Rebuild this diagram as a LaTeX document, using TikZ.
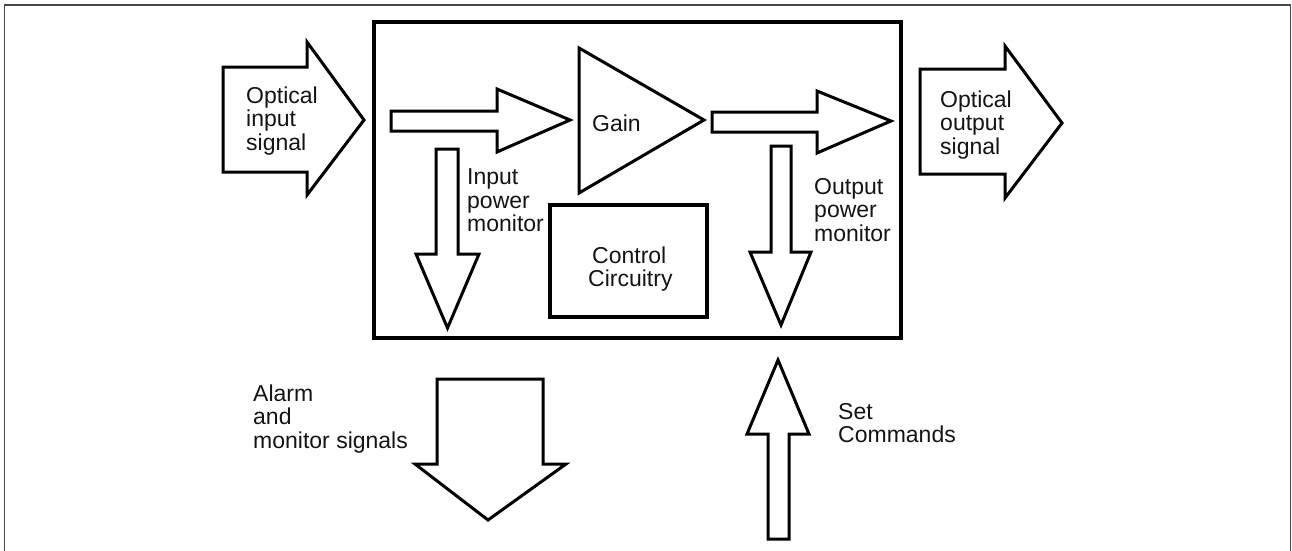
\documentclass[tikz,border=0pt]{standalone}
\usepackage{fontspec}
\setmainfont{Liberation Sans}
\begin{document}
\begin{tikzpicture}[x=1pt,y=-1pt,
  shp/.style={draw=black,line width=3pt,fill=white,line join=miter},
  boxs/.style={draw=black,line width=3.4pt,line join=miter},
  lbl/.style={inner sep=0pt,anchor=base west,font=\fontsize{23pt}{23.5pt}\selectfont,text=black!92}]
\useasboundingbox (0,0) rectangle (1292,550);
% outer frame
\draw[draw=black!72,line width=1.4pt] (4.5,551) -- (4.5,5) -- (1290.5,5) -- (1290.5,551);
% main box
\draw[boxs] (374,22) rectangle (901,338);
% control box
\draw[shp,line width=3.2pt] (550,205) rectangle (707,317);
% optical input arrow
\draw[shp] (223,67) -- (307,67) -- (307,42) -- (364,120) -- (307,195) -- (307,172) -- (223,172) -- cycle;
% inner arrow 1
\draw[shp] (391,111) -- (497,111) -- (497,89) -- (570,120) -- (497,152) -- (497,131) -- (391,131) -- cycle;
% gain triangle
\draw[shp] (579,48) -- (704,120) -- (579,193) -- cycle;
% inner arrow 2
\draw[shp] (712,112) -- (817,112) -- (817,91) -- (891,121) -- (817,153) -- (817,132) -- (712,132) -- cycle;
% optical output arrow
\draw[shp] (920,69) -- (1005,69) -- (1005,46) -- (1062,123) -- (1005,198) -- (1005,174) -- (920,174) -- cycle;
% input power monitor arrow
\draw[shp] (436,149) -- (458,149) -- (458,254) -- (479,254) -- (447.5,328) -- (416,254) -- (436,254) -- cycle;
% output power monitor arrow
\draw[shp] (771,146) -- (791,146) -- (791,252) -- (811,252) -- (781,325) -- (750,252) -- (771,252) -- cycle;
% alarm arrow
\draw[shp] (437,379) -- (543,379) -- (543,464) -- (566,464) -- (488,520) -- (415,464) -- (437,464) -- cycle;
% set commands arrow
\draw[shp] (768,539) -- (789,539) -- (789,434) -- (809,434) -- (778,360) -- (747,434) -- (768,434) -- cycle;
% labels
\node[lbl] (in1) at (246,103) {Optical};
\node[lbl] (in2) at (246,126.5) {input};
\node[lbl] (in3) at (246,150) {signal};
\node[lbl] (gain) at (592,131) {Gain};
\node[lbl] (ipm1) at (467,184.5) {Input};
\node[lbl] (ipm2) at (467,208) {power};
\node[lbl] (ipm3) at (467,231.5) {monitor};
\node[lbl] (ctl1) at (592,263) {Control};
\node[lbl] (ctl2) at (588,286.5) {Circuitry};
\node[lbl] (out1) at (940,107) {Optical};
\node[lbl] (out2) at (940,130.5) {output};
\node[lbl] (out3) at (940,154) {signal};
\node[lbl] (opm1) at (814,194) {Output};
\node[lbl] (opm2) at (814,217.5) {power};
\node[lbl] (opm3) at (814,241) {monitor};
\node[lbl] (al1) at (253,401) {Alarm};
\node[lbl] (al2) at (253,424.5) {and};
\node[lbl] (al3) at (253,448) {monitor signals};
\node[lbl] (set1) at (838,419) {Set};
\node[lbl] (set2) at (838,442.5) {Commands};
\end{tikzpicture}
\end{document}
